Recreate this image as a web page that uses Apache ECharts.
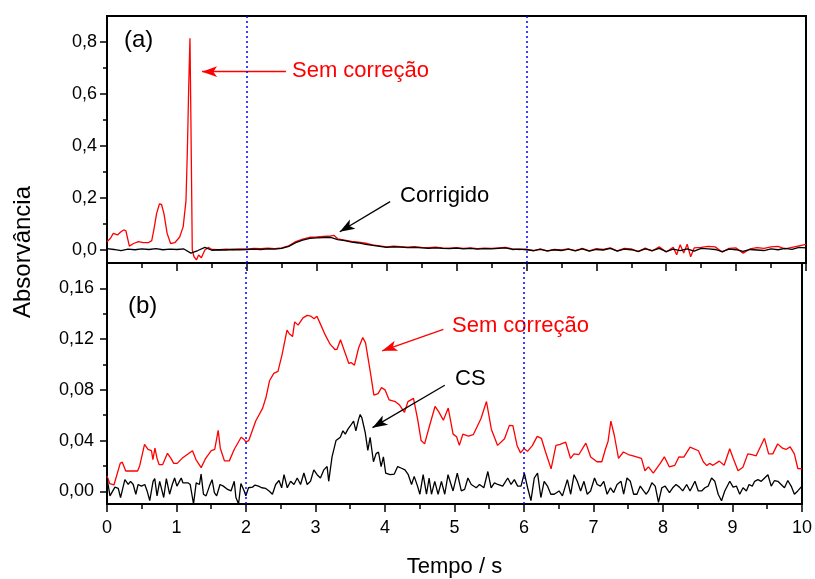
<!DOCTYPE html>
<html>
<head>
<meta charset="utf-8">
<script src="https://cdn.jsdelivr.net/npm/echarts@6/dist/echarts.min.js"></script>
<style>
  html, body { margin: 0; padding: 0; background: #fff; }
  #chart { width: 815px; height: 579px; }
</style>
</head>
<body>
<div id="chart"></div>
<script>
// ---- axis ticks ----
const absTicksA = [0, 0.2, 0.4, 0.6, 0.8];
const absMinorA = [0.1, 0.3, 0.5, 0.7];
const absTicksB = [0, 0.04, 0.08, 0.12, 0.16];
const absMinorB = [0.02, 0.06, 0.10, 0.14];
const markerTimes = [2, 6];

// ---- (a) raw signal, [tempo, absorvância] ----
const semCorrecaoA = [
  [0,0.032],[0.05,0.045],[0.09,0.064],[0.15,0.058],[0.2,0.07],[0.24,0.077],[0.27,0.074],[0.32,0.015],
  [0.38,0.025],[0.45,0.032],[0.52,0.028],[0.59,0.028],[0.64,0.036],[0.67,0.077],[0.71,0.141],[0.75,0.177],
  [0.78,0.175],[0.815,0.14],[0.86,0.064],[0.91,0.025],[0.97,0.028],[1.04,0.05],[1.09,0.09],[1.13,0.19],
  [1.15,0.385],[1.17,0.64],[1.187,0.814],[1.2,0.51],[1.22,0.0],[1.245,-0.026],[1.28,-0.038],[1.31,-0.019],
  [1.35,-0.03],[1.4,0.0],[1.45,0.01],[1.5,0.002],[1.6,0.001],[1.7,0.003],[1.8,0.002],[1.9,0.004],
  [2.0,0.003],[2.1,0.006],[2.2,0.005],[2.3,0.007],[2.4,0.005],[2.5,0.008],[2.6,0.016],[2.7,0.032],
  [2.8,0.042],[2.9,0.049],[3.0,0.05],[3.1,0.052],[3.2,0.054],[3.25,0.056],[3.3,0.043],[3.4,0.038],
  [3.5,0.033],[3.6,0.03],[3.7,0.026],[3.8,0.02],[3.9,0.016],[4.0,0.012],[4.1,0.015],[4.2,0.013],
  [4.3,0.011],[4.4,0.013],[4.5,0.01],[4.6,0.009],[4.7,0.011],[4.8,0.008],[4.9,0.007],[5.0,0.009],
  [5.1,0.006],[5.2,0.008],[5.3,0.005],[5.4,0.007],[5.5,0.006],[5.6,0.008],[5.7,0.01],[5.8,0.004],
  [5.9,0.002],[6.0,0.003],[6.1,-0.003],[6.2,0.004],[6.3,-0.004],[6.4,0.002],[6.5,0.0],[6.6,0.004],
  [6.7,-0.002],[6.8,0.006],[6.9,-0.003],[7.0,0.005],[7.1,0.002],[7.2,0.008],[7.3,-0.003],[7.4,0.006],
  [7.5,0.004],[7.6,-0.006],[7.7,0.007],[7.8,-0.004],[7.9,0.012],[8.0,-0.008],[8.1,0.01],[8.15,-0.018],
  [8.2,0.02],[8.25,-0.012],[8.3,0.022],[8.35,-0.026],[8.4,0.008],[8.5,0.01],[8.6,0.014],[8.7,0.012],
  [8.8,-0.008],[8.9,0.006],[9.0,0.008],[9.1,-0.012],[9.2,0.004],[9.3,0.009],[9.4,0.006],[9.5,0.012],
  [9.6,0.014],[9.7,0.004],[9.8,0.01],[9.9,0.016],[10.0,0.022]
];

// ---- (a) corrected signal ----
const corrigidoA = [
  [0,0.005],[0.1,0.002],[0.2,-0.002],[0.3,0.003],[0.4,0.001],[0.5,0.004],[0.6,0.002],[0.7,0.005],
  [0.8,0.001],[0.9,0.003],[1.0,0.002],[1.1,0.004],[1.2,-0.012],[1.3,-0.002],[1.4,0.01],[1.5,-0.001],
  [1.6,0.001],[1.7,0.0],[1.8,0.002],[1.9,0.001],[2.0,0.002],[2.1,0.003],[2.2,0.002],[2.3,0.004],
  [2.4,0.003],[2.5,0.006],[2.6,0.014],[2.7,0.028],[2.8,0.038],[2.9,0.045],[3.0,0.047],[3.1,0.048],
  [3.2,0.049],[3.3,0.04],[3.4,0.036],[3.5,0.03],[3.6,0.027],[3.7,0.022],[3.8,0.018],[3.9,0.014],
  [4.0,0.01],[4.1,0.012],[4.2,0.011],[4.3,0.009],[4.4,0.01],[4.5,0.008],[4.6,0.006],[4.7,0.008],
  [4.8,0.006],[4.9,0.005],[5.0,0.007],[5.1,0.004],[5.2,0.006],[5.3,0.003],[5.4,0.005],[5.5,0.004],
  [5.6,0.006],[5.7,0.008],[5.8,0.002],[5.9,0.003],[6.0,0.001],[6.1,-0.002],[6.2,0.002],[6.3,-0.003],
  [6.4,0.001],[6.5,-0.002],[6.6,0.003],[6.7,-0.003],[6.8,0.004],[6.9,-0.004],[7.0,0.002],[7.1,0.0],
  [7.2,0.006],[7.3,-0.004],[7.4,0.003],[7.5,0.001],[7.6,-0.005],[7.7,0.004],[7.8,-0.002],[7.9,0.006],
  [8.0,-0.006],[8.1,0.003],[8.2,-0.002],[8.3,0.004],[8.4,-0.004],[8.5,0.006],[8.6,0.004],[8.7,0.002],
  [8.8,-0.006],[8.9,0.003],[9.0,0.001],[9.1,-0.005],[9.2,0.002],[9.3,0.0],[9.4,-0.002],[9.5,0.004],
  [9.6,0.001],[9.7,0.006],[9.8,0.002],[9.9,0.01],[10.0,0.008]
];

// ---- (b) raw signal ----
const semCorrecaoB = [
  [0,0.012],[0.04,0.006],[0.1,0.005],[0.19,0.022],[0.22,0.023],[0.27,0.016],[0.44,0.016],[0.47,0.02],
  [0.54,0.037],[0.59,0.033],[0.64,0.032],[0.66,0.025],[0.69,0.034],[0.72,0.026],[0.75,0.021],[0.8,0.021],
  [0.87,0.03],[0.92,0.026],[0.96,0.022],[1.01,0.022],[1.08,0.026],[1.23,0.032],[1.28,0.025],[1.355,0.0187],
  [1.42,0.026],[1.5,0.032],[1.55,0.033],[1.6,0.048],[1.63,0.034],[1.69,0.024],[1.76,0.024],[1.83,0.033],
  [1.93,0.0426],[1.97,0.041],[2.0,0.039],[2.04,0.04],[2.14,0.0554],[2.24,0.0656],[2.29,0.0746],[2.34,0.0874],
  [2.4,0.093],[2.46,0.0946],[2.52,0.108],[2.59,0.127],[2.62,0.1245],[2.67,0.122],[2.7,0.1336],[2.75,0.131],
  [2.82,0.1367],[2.88,0.1387],[2.93,0.1382],[2.98,0.136],[3.02,0.138],[3.07,0.132],[3.14,0.1233],[3.21,0.116],
  [3.28,0.1118],[3.31,0.112],[3.36,0.1195],[3.42,0.11],[3.48,0.1008],[3.51,0.1015],[3.56,0.0995],[3.62,0.113],
  [3.68,0.1213],[3.72,0.117],[3.79,0.0938],[3.84,0.0759],[3.9,0.077],[3.95,0.0818],[4.0,0.08],[4.06,0.072],
  [4.15,0.0707],[4.21,0.068],[4.28,0.0623],[4.33,0.0707],[4.41,0.0733],[4.47,0.0567],[4.52,0.04],[4.57,0.0374],
  [4.64,0.0515],[4.72,0.0669],[4.77,0.063],[4.84,0.0561],[4.91,0.0656],[4.98,0.0451],[5.03,0.043],[5.07,0.0362],
  [5.12,0.045],[5.2,0.0436],[5.27,0.0446],[5.38,0.0572],[5.46,0.0708],[5.53,0.049],[5.62,0.0362],[5.72,0.0415],
  [5.79,0.052],[5.84,0.0518],[5.9,0.0362],[5.95,0.0303],[6.0,0.0337],[6.05,0.0315],[6.12,0.036],[6.19,0.0433],
  [6.25,0.0418],[6.31,0.031],[6.39,0.0177],[6.46,0.0362],[6.52,0.037],[6.6,0.0387],[6.67,0.0259],[6.72,0.0295],
  [6.79,0.029],[6.89,0.038],[6.96,0.027],[7.05,0.0233],[7.12,0.0233],[7.17,0.033],[7.21,0.0395],[7.25,0.0554],
  [7.3,0.044],[7.36,0.0259],[7.43,0.031],[7.5,0.029],[7.57,0.028],[7.63,0.027],[7.69,0.026],[7.74,0.0162],
  [7.79,0.0193],[7.86,0.0144],[7.96,0.022],[8.02,0.0272],[8.09,0.0193],[8.17,0.0205],[8.23,0.0272],[8.3,0.027],
  [8.39,0.0349],[8.51,0.032],[8.58,0.0233],[8.63,0.0203],[8.67,0.022],[8.72,0.0205],[8.81,0.0238],[8.88,0.0205],
  [8.96,0.0336],[9.01,0.026],[9.08,0.0162],[9.15,0.019],[9.22,0.0295],[9.28,0.029],[9.34,0.028],[9.4,0.035],
  [9.46,0.0418],[9.52,0.0295],[9.58,0.0295],[9.65,0.0374],[9.72,0.034],[9.77,0.033],[9.83,0.035],[9.89,0.0295],
  [9.94,0.018],[10,0.0177]
];

// ---- (b) CS-corrected signal ----
const csB = [
  [0,0.0105],[0.043,-0.0036],[0.114,0.0033],[0.162,0.0023],[0.195,-0.0049],[0.257,0.0092],[0.305,0.0054],[0.339,0.0079],
  [0.377,0.0054],[0.415,-0.0023],[0.448,0.0054],[0.496,0.0041],[0.544,0.0054],[0.577,0.0003],[0.615,-0.0074],[0.663,0.0079],
  [0.687,0.01],[0.72,-0.0036],[0.758,0.0079],[0.816,-0.0049],[0.854,0.01],[0.901,-0.0023],[0.939,0.0054],[0.973,0.0105],
  [1.006,0.0041],[1.068,0.0105],[1.092,0.0067],[1.116,0.0079],[1.164,0.0067],[1.197,0.0054],[1.245,-0.01],[1.283,0.0067],
  [1.33,0.0054],[1.354,0.0136],[1.388,-0.0023],[1.426,-0.0036],[1.474,0.0041],[1.512,0.0092],[1.545,-0.001],[1.578,-0.0036],
  [1.626,0.0054],[1.674,0.0041],[1.736,0.0015],[1.784,0.0003],[1.831,0.0079],[1.855,-0.0049],[1.893,-0.01],[1.927,0.0062],
  [1.974,0.0003],[1.998,-0.0036],[2.036,0.0028],[2.094,0.0033],[2.131,0.0049],[2.179,0.0041],[2.227,0.0028],[2.284,0.0023],
  [2.332,0.0003],[2.38,-0.0023],[2.427,0.0054],[2.475,0.0085],[2.513,0.0028],[2.547,0.0131],[2.594,0.0028],[2.642,0.0079],
  [2.69,0.0054],[2.737,0.0105],[2.785,0.0054],[2.833,0.0144],[2.88,0.0054],[2.928,0.0079],[2.976,0.0169],[3.023,0.0131],
  [3.071,0.0105],[3.119,0.0169],[3.167,0.0195],[3.19,0.0079],[3.238,0.0272],[3.295,0.04],[3.357,0.0426],[3.395,0.0477],
  [3.429,0.0451],[3.467,0.049],[3.5,0.0515],[3.548,0.0554],[3.581,0.0477],[3.62,0.0567],[3.643,0.0605],[3.667,0.058],
  [3.715,0.0464],[3.753,0.0323],[3.786,0.0426],[3.834,0.0233],[3.872,0.0297],[3.906,0.031],[3.944,0.0195],[3.977,0.0272],
  [4.01,0.0144],[4.072,0.0131],[4.134,0.0136],[4.182,0.0195],[4.239,0.0182],[4.287,0.0169],[4.335,0.0131],[4.382,0.0054],
  [4.42,0.0118],[4.468,0.0041],[4.502,-0.0023],[4.549,0.0131],[4.597,-0.0023],[4.635,0.0105],[4.669,-0.0023],[4.716,0.0079],
  [4.764,-0.0023],[4.812,0.0079],[4.86,-0.0023],[4.907,0.0131],[4.979,0.0003],[5.04,0.0144],[5.098,0.0003],[5.146,0.0015],
  [5.193,0.0105],[5.241,0.0054],[5.313,0.0028],[5.36,0.0054],[5.422,0.0028],[5.48,0.0156],[5.527,0.0028],[5.575,0.0067],
  [5.623,0.0054],[5.694,0.0041],[5.766,0.0105],[5.814,0.0054],[5.861,0.0092],[5.909,0.0041],[5.957,0.0041],[6.005,0.0144],
  [6.052,0.0028],[6.1,-0.0074],[6.148,0.0105],[6.195,0.0144],[6.243,-0.0049],[6.29,0.0079],[6.338,0.0041],[6.386,-0.0023],
  [6.434,-0.0023],[6.505,0.0003],[6.553,-0.0036],[6.624,0.0092],[6.672,-0.0023],[6.72,0.0131],[6.767,0.0079],[6.815,0.0003],
  [6.863,0.0079],[6.91,-0.0023],[6.958,0.0003],[7.015,0.0105],[7.053,0.0054],[7.1,0.0041],[7.148,0.0079],[7.196,-0.0023],
  [7.244,0.0028],[7.291,-0.001],[7.339,0.0054],[7.396,0.0079],[7.434,-0.0023],[7.482,0.0105],[7.53,0.0079],[7.578,-0.0023],
  [7.625,-0.0023],[7.673,0.0041],[7.721,0.0003],[7.759,-0.0023],[7.792,0.0003],[7.84,0.0067],[7.888,0.0041],[7.935,-0.0087],
  [7.983,0.0028],[8.031,0.0041],[8.093,-0.001],[8.14,0.0028],[8.188,0.0054],[8.236,0.0033],[8.284,0.0003],[8.341,0.0054],
  [8.389,0.0003],[8.46,0.0079],[8.508,0.0003],[8.556,0.0003],[8.603,0.0028],[8.651,0.0041],[8.699,0.0105],[8.746,0.0079],
  [8.794,-0.0023],[8.842,-0.0074],[8.889,0.0003],[8.961,0.0079],[9.009,0.0033],[9.056,0.0041],[9.104,-0.0023],[9.152,0.0028],
  [9.2,0.0003],[9.238,0.0054],[9.285,0.0041],[9.319,0.0079],[9.366,0.0092],[9.414,0.0079],[9.462,0.0105],[9.51,0.0131],
  [9.557,0.0041],[9.605,0.0085],[9.653,0.0079],[9.7,0.0054],[9.748,0.0028],[9.796,0.0085],[9.844,0.0041],[9.891,-0.0023],
  [9.939,0.0003],[10,0.0041]
];

const FONT = '"Liberation Sans", Arial, Helvetica, sans-serif';
const RED = '#ff0000';
const BLACK = '#000000';
const BLUE = '#0000ff';

const rangeA = [-0.05, 0.9];
const rangeB = [-0.01, 0.18];

const comma = (digits) => (v) => v.toFixed(digits).replace('.', ',');

function timeAxis(gridIndex, withLabels) {
  return {
    type: 'value', gridIndex, min: 0, max: 10, interval: 1, position: 'bottom', offset: 0,
    axisLine: { show: true, onZero: false, lineStyle: { color: BLACK, width: 2 } },
    axisTick: { show: true, inside: false, length: 8, lineStyle: { color: BLACK, width: 1.5 } },
    minorTick: { show: true, splitNumber: 2, length: 5, lineStyle: { color: BLACK, width: 1.5 } },
    splitLine: { show: false },
    minorSplitLine: { show: false },
    axisLabel: withLabels
      ? { show: true, margin: 15, fontFamily: FONT, fontSize: 18, color: BLACK }
      : { show: false },
    name: withLabels ? 'Tempo / s' : '',
    nameLocation: 'middle',
    nameGap: 52,
    nameTextStyle: { fontFamily: FONT, fontSize: 22, color: BLACK }
  };
}

function absAxis(gridIndex, range, major, digits, margin) {
  return {
    type: 'value', gridIndex, min: range[0], max: range[1], position: 'left', offset: 0,
    axisLine: { show: true, onZero: false, lineStyle: { color: BLACK, width: 2 } },
    axisTick: { show: true, inside: false, length: 7, customValues: major, lineStyle: { color: BLACK, width: 1.5 } },
    axisLabel: { show: true, margin, customValues: major, formatter: comma(digits),
                 fontFamily: FONT, fontSize: 18, color: BLACK },
    splitLine: { show: false }
  };
}

function absMinorAxis(gridIndex, range, minor) {
  return {
    type: 'value', gridIndex, min: range[0], max: range[1], position: 'left', offset: 0,
    axisLine: { show: false, onZero: false },
    axisTick: { show: true, inside: false, length: 4, customValues: minor, lineStyle: { color: BLACK, width: 1.5 } },
    axisLabel: { show: false },
    splitLine: { show: false }
  };
}

function verticalMarkers(range) {
  return markerTimes.map(t => [
    { coord: [t, range[0]], symbol: 'none', lineStyle: { color: BLUE, width: 1.5, type: [2, 3] } },
    { coord: [t, range[1]], symbol: 'none' }
  ]);
}

function arrow(from, to, color) {
  return [
    { coord: from, symbol: 'none', lineStyle: { color, width: 1.3, type: 'solid' } },
    { coord: to, symbol: 'arrow', symbolSize: [8, 15] }
  ];
}

function markLineOf(items) {
  return {
    silent: true, animation: false,
    label: { show: false },
    emphasis: { disabled: true },
    symbolSize: [8, 15],
    data: items
  };
}

function lineSeries(name, data, color, xi, yi, markItems) {
  return {
    name, type: 'line', data, xAxisIndex: xi, yAxisIndex: yi,
    showSymbol: false, symbol: 'none', smooth: false, clip: true,
    lineStyle: { color, width: 1.3 },
    itemStyle: { color },
    emphasis: { disabled: true },
    markLine: markLineOf(markItems),
    z: 3
  };
}

const chart = echarts.init(document.getElementById('chart'), null, { renderer: 'canvas' });

chart.setOption({
  animation: false,
  backgroundColor: '#ffffff',
  grid: [
    { left: 107, right: 9, top: 16, height: 247, show: true, borderColor: BLACK, borderWidth: 2, backgroundColor: 'transparent' },
    { left: 107, right: 9, top: 263, height: 247, show: true, borderColor: BLACK, borderWidth: 2, backgroundColor: 'transparent' }
  ],
  xAxis: [timeAxis(0, false), timeAxis(1, true)],
  yAxis: [
    absAxis(0, rangeA, absTicksA, 1, 10),
    absMinorAxis(0, rangeA, absMinorA),
    absAxis(1, rangeB, absTicksB, 2, 13),
    absMinorAxis(1, rangeB, absMinorB)
  ],
  series: [
    lineSeries('Sem correção (a)', semCorrecaoA, RED, 0, 0, [arrow([2.56, 0.686], [1.36, 0.686], RED)]),
    lineSeries('Corrigido', corrigidoA, BLACK, 0, 0,
      verticalMarkers(rangeA).concat([arrow([4.05, 0.186], [3.33, 0.07], BLACK)])),
    lineSeries('Sem correção (b)', semCorrecaoB, RED, 1, 2, [arrow([4.84, 0.1277], [3.96, 0.1108], RED)]),
    lineSeries('CS', csB, BLACK, 1, 2,
      verticalMarkers(rangeB).concat([arrow([4.86, 0.0836], [3.82, 0.0502], BLACK)]))
  ],
  graphic: [
    { type: 'text', left: 124, top: 28, style: { text: '(a)', font: '24px ' + FONT, fill: BLACK } },
    { type: 'text', left: 128, top: 294, style: { text: '(b)', font: '24px ' + FONT, fill: BLACK } },
    { type: 'text', left: 292, top: 60, style: { text: 'Sem correção', font: '22px ' + FONT, fill: RED } },
    { type: 'text', left: 400, top: 185, style: { text: 'Corrigido', font: '22px ' + FONT, fill: BLACK } },
    { type: 'text', left: 452, top: 315, style: { text: 'Sem correção', font: '22px ' + FONT, fill: RED } },
    { type: 'text', left: 455, top: 368, style: { text: 'CS', font: '22px ' + FONT, fill: BLACK } },
    {
      type: 'text', x: 23, y: 252, rotation: Math.PI / 2,
      style: { text: 'Absorvância', font: '24px ' + FONT, fill: BLACK, align: 'center', verticalAlign: 'middle' }
    }
  ]
});
</script>
</body>
</html>
